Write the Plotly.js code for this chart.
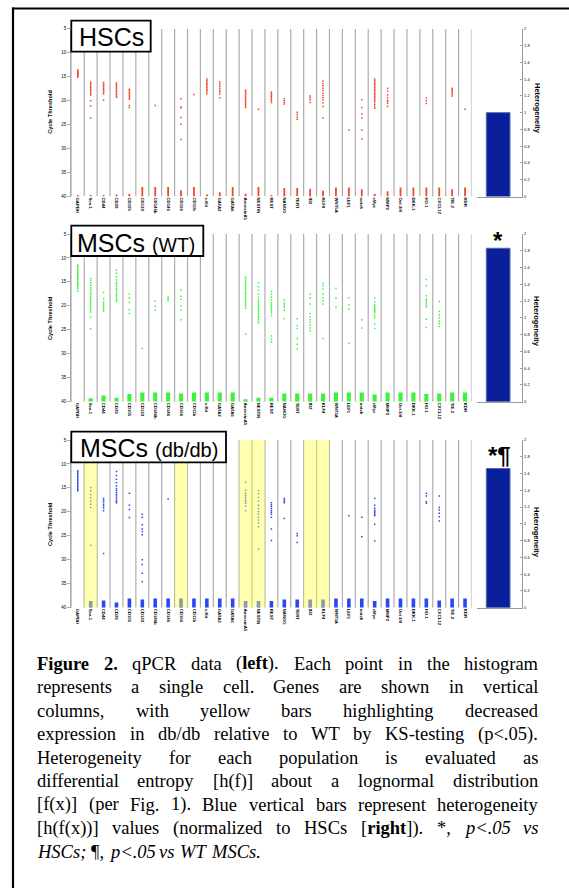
<!DOCTYPE html>
<html><head><meta charset="utf-8">
<script src="https://cdn.plot.ly/plotly-3.0.1.min.js"></script>
<style>html,body{margin:0;padding:0;background:#fff;} #chart{width:569px;height:888px;}</style>
</head><body><div id="chart"></div>
<script>
// ---------------- DATA ----------------
const genes = ["GAPDH","Sca-1","CD44","CD29","CD105","CD133","CD146b","CD146","CD166","CD11b","c-Kit","GATA2","GATA6","AnnexinA5","NESTIN","REST","NANOG","TERT","ID2","KLF4","WNT5A","LEF1","notch","cMyc","MMP2","Oct 3/4","DKK-1","HO-1","CXCL12","TIE-2","KDR"];

// cycle thresholds of detected single cells, per gene (HSCs)
const hscPoints = [
 [13.6,13.8,14.0,14.1,14.3,14.4,14.6,14.7,14.9,15.1],
 [16.1,16.4,16.7,17.0,17.3,17.6,17.9,18.2,18.5,18.8,20.0,21.1,23.6],
 [16.2,16.5,16.8,17.1,17.4,17.7,18.0,18.3,18.6,19.9],
 [16.3,16.6,16.9,17.2,17.5,17.8,18.1,18.4,18.7,19.0,19.3],
 [17.6,17.9,18.2,18.5,18.8,19.1,19.4,19.7,21.0,21.4],
 [],
 [21.0],
 [],
 [19.6,21.3,21.5,23.5,24.9,28.1],
 [18.7],
 [15.5,15.8,16.1,16.4,16.7,17.0,17.3,17.6,17.9,18.2,18.6],
 [16.1,16.5,17.0,17.4,17.8,18.2,18.6,19.4],
 [],
 [17.8,18.1,18.4,18.7,19.0,19.3,19.6,19.9,20.2,20.5,20.8,21.1,21.4],
 [21.8],
 [18.2,18.5,18.8,19.1,19.4,19.7,20.0,20.4],
 [19.6,20.0,20.4,20.7],
 [22.4,22.9,23.4,23.9],
 [19.0,19.4,19.8,20.4],
 [15.9,16.4,16.9,17.4,17.9,18.4,18.9,19.4,19.9,20.5,21.2,23.6],
 [],
 [26.1],
 [19.8,21.4,22.8,23.6,26.1,28.0],
 [15.5,15.8,16.1,16.4,16.7,17.0,17.3,17.6,17.9,18.2,18.5,18.8,19.1,19.4,19.7,20.0,20.4,20.8,21.2,21.6],
 [17.4,18.0,18.8,19.4,19.9,20.2,20.6,21.2],
 [],
 [],
 [19.5,20.0,20.6],
 [],
 [17.4,17.7,18.0,18.3,18.6,19.0],
 [21.8]
];
// top of the non-detected stack at Ct = 40 (HSCs)
const hscNd = [39.7,39.7,39.7,39.6,39.4,38.0,38.0,38.0,38.7,38.0,39.6,39.1,38.0,39.4,38.0,39.7,38.2,38.2,38.4,38.8,38.1,38.1,38.5,39.4,38.9,38.1,38.1,38.1,38.1,38.5,38.1];

const wtPoints = [
 [11.5,11.8,12.1,12.4,12.7,13.0,13.3,13.6,13.9,14.2,14.5,14.8,15.1,15.4,15.7,16.0,16.4,16.9],
 [14.3,14.7,15.2,15.7,16.2,16.7,17.2,17.6,18.0,18.4,18.8,19.2,19.6,20.0,20.4,20.8,21.3,22.3,24.8],
 [17.2,18.5,19.2,19.6,20.0,20.4,20.8,21.2],
 [12.5,13.2,13.9,14.6,15.1,15.5,15.9,16.3,16.7,17.1,17.5,17.9,18.3,18.7,19.1],
 [17.5,18.3,19.3,20.8,21.6],
 [28.9],
 [19.0,20.1,20.9],
 [18.2,18.5,18.9],
 [16.7,18.0,18.6,20.0,20.9,22.9],
 [],
 [],
 [],
 [],
 [14.0,14.4,14.8,15.2,15.6,16.0,16.4,16.8,17.2,17.6,18.0,18.4,18.8,19.2,19.6,20.0,20.5,25.9],
 [15.2,16.0,16.8,17.6,18.2,18.8,19.2,19.6,20.0,20.4,20.8,21.2,21.6,22.0,22.4,22.8,23.2,23.6],
 [17.0,17.6,18.2,18.8,19.4,19.8,20.2,20.6,21.0,21.5,22.0,26.3,26.9,27.5],
 [18.8,19.4,19.8,20.3,20.9,22.7],
 [22.7,24.1,24.7,26.8,28.0,29.0],
 [17.5,18.3,19.6,21.6,22.4,22.9,23.4,24.0,24.6,25.2],
 [15.3,15.8,16.5,17.6,18.4,19.0,19.6,26.8],
 [16.3,18.4,20.3],
 [18.3,19.8,20.7,27.8],
 [22.9,24.6],
 [18.4,19.2,19.8,20.2,20.5,20.8,21.1,21.5,22.0,22.5,23.8,24.7],
 [],
 [],
 [],
 [14.5,15.8,17.9,18.6,19.0,19.4,19.8,20.2,22.8,24.5],
 [19.1,21.2,21.9,22.5,23.2,23.7,24.3],
 [],
 []
];
const wtNd = [40,39.3,38.7,39.2,38.4,38.1,38.1,38.1,38.3,38.1,38.1,38.1,38.1,39.5,39.2,39.2,38.3,38.3,38.3,38.3,38.1,38.1,38.1,38.5,38.1,38.1,38.1,38.4,38.3,38.1,38.1];

const dbPoints = [
 [11.4,11.7,12.0,12.3,12.6,12.9,13.2,13.5,13.8,14.1,14.4,14.7,15.0,15.3,15.6],
 [14.9,15.6,16.4,17.1,17.8,18.4,19.1,27.0],
 [17.2,17.6,18.0,18.4,18.8,19.2,19.75,28.7],
 [11.6,12.4,13.2,13.9,14.6,15.1,15.5,15.9,16.3,16.7,17.1,17.5,17.8,18.1],
 [16.1,18.6,19.5,21.2],
 [20.5,21.1,22.7,23.6,24.1,24.8,30.0,31.0,32.8,34.6],
 [],
 [17.3],
 [],
 [],
 [],
 [],
 [],
 [13.8,15.5,16.1,16.6,17.0,17.4,17.8,18.2,18.8,19.75],
 [15.6,16.2,17.0,17.8,18.6,19.3,19.9,20.5,21.1,21.7,22.3,23.1,27.8],
 [18.1,18.5,18.9,19.3,19.7,20.1,20.5,21.1,23.6,26.0],
 [17.2,17.5,17.8,18.1,21.4],
 [24.5,25.0,26.4],
 [],
 [],
 [],
 [20.8],
 [21.1,25.2],
 [17.2,18.6,19.2,19.6,19.9,20.2,20.5,20.8,22.6,26.1],
 [],
 [],
 [],
 [16.1,16.7,17.9,18.2],
 [16.7,19.1,19.6,20.3,21.0,21.9],
 [],
 []
];
const dbNd = [40,38.6,38.5,38.9,38.1,38.3,38.1,38.1,38.1,38.1,38.1,38.1,38.1,38.6,38.6,38.6,38.3,38.3,38.3,38.3,38.1,38.1,38.1,38.6,38.1,38.1,38.1,38.1,38.5,38.1,38.1];

// genes with decreased expression in db/db vs WT (yellow columns)
const dbHighlight = ["Sca-1","CD166","AnnexinA5","NESTIN","ID2","KLF4"];

// heterogeneity (normalized to HSCs)
const hetValues = [1.0, 1.83, 1.66];
const hetMarks = ["", "*", "*¶"];

const ctTicks = [5,10,15,20,25,30,35,40];
const hetTickVals = [0,0.2,0.4,0.6,0.8,1,1.2,1.4,1.6,1.8,2];
const hetTickText = ["0","0.2","0.4","0.6","0.8","1","1.2","1.4","1.6","1.8","2"];

const panelTitles = ["HSCs", "MSCs <span style='font-size:19.5px'>(WT)</span>", "MSCs <span style='font-size:20px'>(db/db)</span>"];

const captionLines = [
 [["Figure 2.","b"],[" qPCR data (",""],["left","b"],["). Each point in the histogram",""]],
 [["represents a single cell. Genes are shown in vertical",""]],
 [["columns, with yellow bars highlighting decreased",""]],
 [["expression in db/db relative to WT by KS-testing (p<.05).",""]],
 [["Heterogeneity for each population is evaluated as",""]],
 [["differential entropy [h(f)] about a lognormal distribution",""]],
 [["[f(x)] (per Fig. 1). Blue vertical bars represent heterogeneity",""]],
 [["[h(f(x))] values (normalized to HSCs [",""],["right","b"],["]). *, ",""],["p<.05 vs","i"]],
 [["HSCs;","i"],[" ¶, ",""],["p<.05 vs WT MSCs.","i"]]
];

// ---------------- LAYOUT / STYLE ----------------
const W = 569, H = 888;
const px = x => x / W;
const py = y => 1 - y / H;
const SANS = 'Arial, "Liberation Sans", sans-serif';
const SERIF = '"Liberation Serif", "Times New Roman", serif';

const panels = [
 {top:28.8, bot:196.5, color:'#f2472f', barW:0.14, pts:hscPoints, nd:hscNd,
  box:[71.3,150.7,20.7,51.7], titleX:79, titleY:37.5, ctY:111.7, hetY:108, markX:497, markY:0},
 {top:234, bot:401.7, color:'#3df23d', barW:0.32, pts:wtPoints, nd:wtNd,
  box:[71.3,203.3,225.7,256], titleX:77.3, titleY:242.5, ctY:318, hetY:321, markX:497.5, markY:240},
 {top:440, bot:607.7, color:'#2a48f0', barW:0.28, pts:dbPoints, nd:dbNd,
  box:[71.3,226,431.7,462.3], titleX:80, titleY:448.2, ctY:524, hetY:532, markX:499.5, markY:455}
];

const traces = [];
const layout = {
  width: W, height: H, margin:{l:0,r:0,t:0,b:0},
  paper_bgcolor:'#fff', plot_bgcolor:'rgba(0,0,0,0)',
  showlegend:false, shapes:[], annotations:[],
  font:{family:SANS, color:'#000'}
};

const geneIdx = genes.map((g,i)=>i+1);

panels.forEach((p, k) => {
  const s = k === 0 ? '' : String(k+1);
  const hs = String(k+4);
  const xa = 'x'+s, ya = 'y'+s, hx = 'x'+hs, hy = 'y'+hs;
  const yDom = [py(p.bot), py(p.top)];

  // points
  const xs = [], ys = [];
  p.pts.forEach((arr, g) => arr.forEach(v => { xs.push(g+1); ys.push(v); }));
  traces.push({type:'scatter', mode:'markers', x:xs, y:ys, xaxis:xa, yaxis:ya,
    marker:{symbol:'square', size:1.5, color:p.color, line:{width:0}}, hoverinfo:'skip'});
  // non-detect stacks at Ct 40
  traces.push({type:'bar', x:geneIdx, base:p.nd, y:p.nd.map(v=>40-v), width:p.barW,
    xaxis:xa, yaxis:ya, marker:{color:p.color, line:{width:0}}, hoverinfo:'skip'});
  // heterogeneity bar
  traces.push({type:'bar', x:[0.467], y:[hetValues[k]], width:[0.523], xaxis:hx, yaxis:hy,
    marker:{color:'#0a1f9c', line:{color:'#5a68a8', width:1}}, hoverinfo:'skip'});

  layout['xaxis'+s] = {domain:[px(71.3), px(471.5)], range:[0.5, genes.length+0.5], anchor:ya,
    tickmode:'array', tickvals:geneIdx, ticktext:genes, tickangle:90,
    tickfont:{size:4.3, family:SANS, color:'#000', weight:'bold'},
    ticks:'', showgrid:false, zeroline:false, showline:false, fixedrange:true};
  layout['yaxis'+s] = {domain:yDom, range:[40,5], anchor:xa, tickmode:'array', tickvals:ctTicks,
    ticks:'outside', ticklen:3, tickwidth:0.8, tickcolor:'#999', tickfont:{size:4.5, color:'#000'},
    showline:true, linecolor:'#aaa', linewidth:1.2, showgrid:false, zeroline:false, fixedrange:true};
  layout['xaxis'+hs] = {domain:[px(477), px(522.3)], range:[0,1], anchor:hy, showline:true,
    linecolor:'#999', linewidth:1, showticklabels:false, ticks:'', showgrid:false, zeroline:false, fixedrange:true};
  layout['yaxis'+hs] = {domain:yDom, range:[0,2], anchor:hx, side:'right', tickmode:'array',
    tickvals:hetTickVals, ticktext:hetTickText, ticks:'inside', ticklen:2.5, tickwidth:0.8, tickcolor:'#888',
    tickfont:{size:4, color:'#000'}, showline:true, linecolor:'#999', linewidth:1,
    showgrid:false, zeroline:false, fixedrange:true};

  // column separators
  for (let i = 0; i <= genes.length; i++) {
    layout.shapes.push({type:'line', xref:xa, yref:ya, x0:i+0.5, x1:i+0.5, y0:5, y1:40,
      line:{color:'#adadad', width:1.2}, layer:'below'});
  }
  // yellow highlights for db/db panel
  if (k === 2) {
    dbHighlight.forEach(g => {
      const i = genes.indexOf(g) + 1;
      layout.shapes.push({type:'rect', xref:xa, yref:ya, x0:i-0.5, x1:i+0.5, y0:5, y1:40,
        fillcolor:'rgba(255,255,79,0.45)', line:{width:0}, layer:'above'});
    });
  }
  // title box
  const b = p.box;
  layout.shapes.push({type:'rect', xref:'paper', yref:'paper', x0:px(b[0]), x1:px(b[1]), y0:py(b[3]), y1:py(b[2]),
    fillcolor:'#fff', line:{color:'#000', width:1.8}, layer:'above'});
  layout.annotations.push({xref:'paper', yref:'paper', x:px(p.titleX), y:py(p.titleY), xanchor:'left', yanchor:'middle',
    text:panelTitles[k], showarrow:false, font:{size:25, family:SANS, color:'#000'}, borderpad:0, borderwidth:0});
  // axis titles
  layout.annotations.push({xref:'paper', yref:'paper', x:px(50), y:py(p.ctY), xanchor:'center', yanchor:'middle',
    text:'<b>Cycle Threshold</b>', textangle:-90, showarrow:false, font:{size:5.6, family:SANS, color:'#000'}});
  layout.annotations.push({xref:'paper', yref:'paper', x:px(537), y:py(p.hetY), xanchor:'center', yanchor:'middle',
    text:'<b>Heterogeneity</b>', textangle:90, showarrow:false, font:{size:7.5, family:SANS, color:'#000'}});
  if (hetMarks[k]) {
    layout.annotations.push({xref:'paper', yref:'paper', x:px(p.markX), y:py(p.markY), xanchor:'center', yanchor:'middle',
      text:'<b>'+hetMarks[k]+'</b>', showarrow:false, font:{size:24, family:SANS, color:'#000'}});
  }
});

// outer frame (left and top edges)
layout.shapes.push({type:'line', xref:'paper', yref:'paper', x0:px(13), x1:px(13), y0:0, y1:py(7.5),
  line:{color:'#000', width:2.2}, layer:'above'});
layout.shapes.push({type:'line', xref:'paper', yref:'paper', x0:px(12), x1:1, y0:py(8.5), y1:py(8.5),
  line:{color:'#000', width:2}, layer:'above'});

// ---------------- CAPTION (justified, word by word) ----------------
const CAP_SIZE = 18.5, CAP_L = 37, CAP_R = 538, CAP_Y0 = 663.5, CAP_DY = 23.5;
const cv = document.createElement('canvas').getContext('2d');
function fontFor(st){ return (st==='i'?'italic ':'') + (st==='b'?'bold ':'') + CAP_SIZE + 'px ' + SERIF; }
function measure(t, st){ cv.font = fontFor(st); return cv.measureText(t).width; }
function esc(t){ return t.replace(/&/g,'&amp;').replace(/</g,'&lt;').replace(/>/g,'&gt;'); }
function lineWords(runs){
  const words = []; let cur = [];
  runs.forEach(([t, st]) => {
    const parts = t.split(' ');
    parts.forEach((part, i) => {
      if (i > 0) { if (cur.length) words.push(cur); cur = []; }
      if (part) cur.push([part, st]);
    });
  });
  if (cur.length) words.push(cur);
  return words;
}
captionLines.forEach((runs, li) => {
  const words = lineWords(runs);
  const widths = words.map(w => w.reduce((a,[t,st]) => a + measure(t, st), 0));
  const total = widths.reduce((a,b)=>a+b, 0);
  const last = li === captionLines.length - 1;
  const gap = last ? measure(' ', '') * 1.15 : (CAP_R - CAP_L - total) / (words.length - 1);
  let x = CAP_L;
  words.forEach((w, wi) => {
    const txt = w.map(([t,st]) => st==='b' ? '<b>'+esc(t)+'</b>' : st==='i' ? '<i>'+esc(t)+'</i>' : esc(t)).join('');
    layout.annotations.push({xref:'paper', yref:'paper', x:px(x), y:py(CAP_Y0 + li*CAP_DY),
      xanchor:'left', yanchor:'middle', text:txt, showarrow:false, borderpad:0, borderwidth:0,
      font:{size:CAP_SIZE, family:SERIF, color:'#000'}});
    x += widths[wi] + gap;
  });
});

Plotly.newPlot('chart', traces, layout, {staticPlot:true, displayModeBar:false});
</script>
</body></html>
